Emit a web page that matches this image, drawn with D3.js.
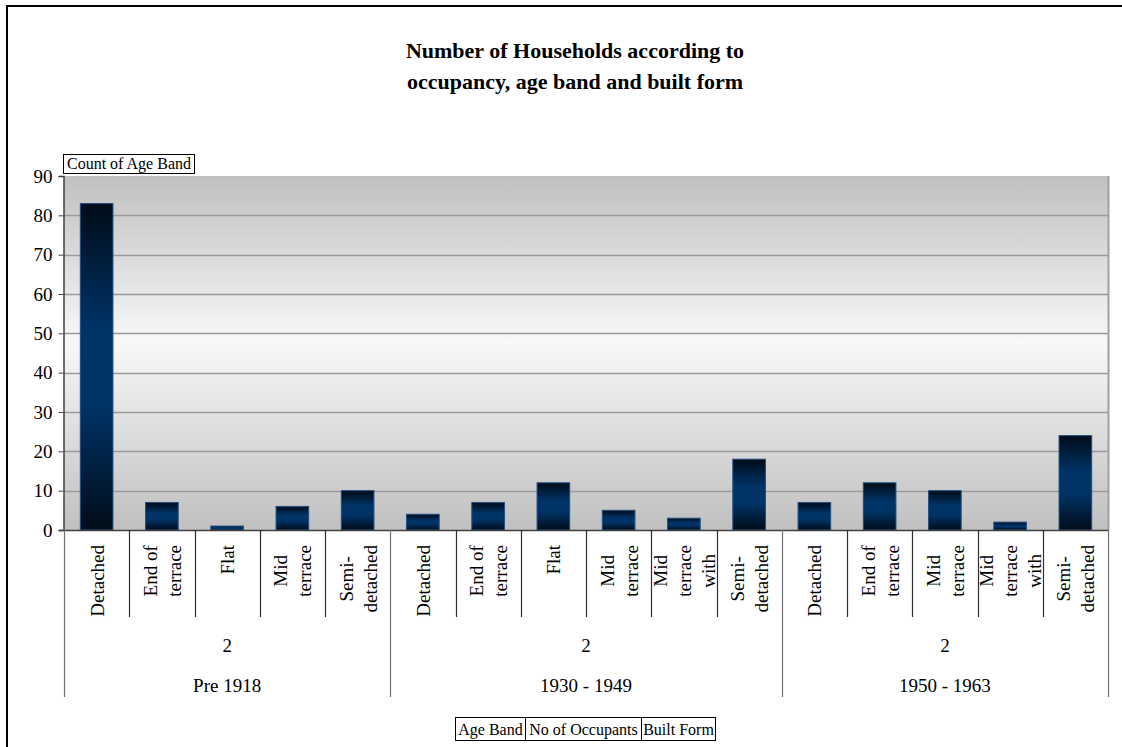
<!DOCTYPE html>
<html><head><meta charset="utf-8">
<script src="https://cdn.jsdelivr.net/npm/d3@7"></script>
<style>body{margin:0;background:#fff}svg{display:block}text{font-family:"Liberation Serif","Times New Roman",serif;fill:#000}</style>
</head><body>
<script>
// ---- data ----
const titleLines = ["Number of Households according to", "occupancy, age band and built form"];
const builtFormLabels = ["Detached","End of\nterrace","Flat","Mid\nterrace","Semi-\ndetached",
  "Detached","End of\nterrace","Flat","Mid\nterrace","Mid\nterrace\nwith","Semi-\ndetached",
  "Detached","End of\nterrace","Mid\nterrace","Mid\nterrace\nwith","Semi-\ndetached"];
const ageBands = ["Pre 1918","1930 - 1949","1950 - 1963"];
const occupants = ["2","2","2"];
const groupSizes = [5,6,5];
const counts = [83,7,1,6,10, 4,7,12,5,3,18, 7,12,10,2,24];
const yTicks = [0,10,20,30,40,50,60,70,80,90];
const fieldButtons = ["Age Band","No of Occupants","Built Form"];

const W=1122,H=747;
const svg=d3.select("body").append("svg").attr("width",W).attr("height",H);
const defs=svg.append("defs");
const bg=defs.append("linearGradient").attr("id","bg").attr("x1",0).attr("y1",0).attr("x2",0).attr("y2",1);
bg.append("stop").attr("offset","0%").attr("stop-color","#c0c0c0");
bg.append("stop").attr("offset","47%").attr("stop-color","#f8f8f8");
bg.append("stop").attr("offset","100%").attr("stop-color","#c0c0c0");
const bar=defs.append("linearGradient").attr("id","bar").attr("x1",0).attr("y1",0).attr("x2",0).attr("y2",1);
bar.append("stop").attr("offset","0%").attr("stop-color","#000c18");
bar.append("stop").attr("offset","38%").attr("stop-color","#003366");
bar.append("stop").attr("offset","62%").attr("stop-color","#003366");
bar.append("stop").attr("offset","100%").attr("stop-color","#000c18");

// outer frame
svg.append("rect").attr("x",7).attr("y",6).attr("width",W+20).attr("height",H+20)
  .attr("fill","none").attr("stroke","#000").attr("stroke-width",2);

// title
svg.append("g").selectAll("text").data(titleLines).join("text")
  .attr("x",575).attr("y",(d,i)=>58+i*31).attr("text-anchor","middle")
  .style("font-size","22px").style("font-weight","bold").text(d=>d);

const L=64,R=1108,T=176,B=530;
const idx=d3.range(counts.length);
const x=d3.scaleBand().domain(idx).range([L,R]).paddingInner(0.5).paddingOuter(0.25);
const y=d3.scaleLinear().domain([0,90]).range([B,T]);

svg.append("rect").attr("x",L).attr("y",T).attr("width",R-L).attr("height",B-T).attr("fill","url(#bg)");
// gridlines
svg.append("g").selectAll("line").data(yTicks.filter(t=>t>0&&t<90)).join("line")
  .attr("x1",L).attr("x2",R).attr("y1",d=>Math.round(y(d))+0.5).attr("y2",d=>Math.round(y(d))+0.5)
  .attr("stroke","#9a9a9a").attr("stroke-width",1.3);
// right border
svg.append("line").attr("x1",R+0.5).attr("x2",R+0.5).attr("y1",T).attr("y2",B).attr("stroke","#a0a0a0").attr("stroke-width",2);

// bars
svg.append("g").selectAll("rect").data(idx).join("rect")
  .attr("x",i=>x(i)).attr("width",x.bandwidth())
  .attr("y",i=>y(counts[i])).attr("height",i=>B-y(counts[i]))
  .attr("fill","url(#bar)").attr("stroke","#1d4f82").attr("stroke-width",1);

// y axis
const ya=svg.append("g").attr("transform",`translate(${L-0.5},0)`)
  .call(d3.axisLeft(y).tickValues(yTicks).tickSize(5).tickPadding(6));
ya.select(".domain").attr("stroke","#404040").attr("stroke-width",1.5);
ya.selectAll(".tick line").attr("stroke","#404040");
ya.selectAll("text").style("font-size","19px").style("font-family",'"Liberation Serif",serif').attr("fill","#000");

// x axis line
svg.append("line").attr("x1",L-5).attr("x2",R+1).attr("y1",B+0.5).attr("y2",B+0.5).attr("stroke","#404040").attr("stroke-width",1.5);

const step=x.step();
// category separators
const boundaries=d3.range(counts.length+1).map(i=>L+i*step);
const groupStarts=[0]; groupSizes.forEach((s,i)=>groupStarts.push(groupStarts[i]+s));
svg.append("g").selectAll("line").data(boundaries).join("line")
  .attr("x1",d=>Math.round(d)+0.5).attr("x2",d=>Math.round(d)+0.5)
  .attr("y1",B).attr("y2",(d,i)=>groupStarts.includes(i)?697:617)
  .attr("stroke",(d,i)=>groupStarts.includes(i)?"#707070":"#303030").attr("stroke-width",1.2);

// rotated built form labels
const lab=svg.append("g");
idx.forEach(i=>{
  const lines=builtFormLabels[i].split("\n");
  const cx=x(i)+x.bandwidth()/2;
  const n=lines.length, sp=24;
  const ts=lines.map((ln,j)=>lab.append("text").attr("text-anchor","middle").style("font-size","19px").text(ln));
  const maxLen=d3.max(ts,t=>t.node().getComputedTextLength());
  const cy=545+maxLen/2;
  ts.forEach((t,j)=>{
    const bx=cx+7+(j-(n-1)/2)*sp;
    t.attr("transform",`translate(${bx},${cy}) rotate(-90)`);
  });
});

// group labels
ageBands.forEach((a,g)=>{
  const x0=L+groupStarts[g]*step, x1=L+groupStarts[g+1]*step;
  const cx=(x0+x1)/2;
  svg.append("text").attr("x",cx).attr("y",652).attr("text-anchor","middle").style("font-size","19px").text(occupants[g]);
  svg.append("text").attr("x",cx).attr("y",692).attr("text-anchor","middle").style("font-size","19px").text(a);
});

// "Count of Age Band" field button
svg.append("rect").attr("x",63.5).attr("y",154.5).attr("width",131).attr("height",19).attr("fill","#fff").attr("stroke","#000");
svg.append("text").attr("x",67).attr("y",169).style("font-size","16px").text("Count of Age Band");

// bottom field buttons
const btnW=[70,116,74];
let bx=455.5;
fieldButtons.forEach((f,i)=>{
  svg.append("rect").attr("x",bx).attr("y",717.5).attr("width",btnW[i]).attr("height",23).attr("fill","#fff").attr("stroke","#000");
  svg.append("text").attr("x",bx+btnW[i]/2).attr("y",735).attr("text-anchor","middle").style("font-size","16px").text(f);
  bx+=btnW[i];
});
</script>
</body></html>
